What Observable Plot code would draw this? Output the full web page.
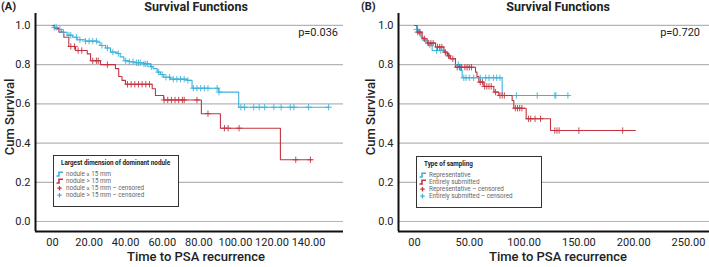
<!DOCTYPE html>
<html>
<head>
<meta charset="utf-8">
<script src="https://cdn.jsdelivr.net/npm/d3@7"></script>
<script src="https://cdn.jsdelivr.net/npm/@observablehq/plot@0.6"></script>
<style>
  html, body { margin: 0; padding: 0; background: #fff; }
  #root { position: relative; width: 709px; height: 267px; overflow: hidden; font-family: Roboto, "Open Sans", sans-serif; color: #222; }
  .abs { position: absolute; white-space: nowrap; }
  .ptitle { font-weight: 700; font-size: 12.5px; transform: translateX(-50%); }
  .panel { font-weight: 700; font-size: 11px; }
  .xlab { font-weight: 500; font-size: 13px; transform: translateX(-50%); }
  .ylab { font-weight: 500; font-size: 13px; transform: translate(-50%, -50%) rotate(-90deg); }
  .pval { font-size: 11px; transform: translateX(-100%); }
  .legend { position: absolute; background: #fff; border: 1.8px solid #333; box-sizing: border-box; }
  .legend .lt { position: absolute; font-weight: 700; font-size: 6.3px; color: #222; }
  .legend .row { position: absolute; font-size: 6.3px; color: #666; display: flex; align-items: center; height: 7px; }
  .legend svg { margin-right: 3px; }
</style>
</head>
<body>
<div id="root"></div>
<script>
// ---------------- DATA ----------------
// Panel A: Largest dimension of dominant nodule (time, cumulative survival)
const nodSmallSteps = [[0,1],[1,0.99],[3,0.98],[5,0.965],[8,0.95],[11,0.94],[13.5,0.927],[18,0.92],[24.4,0.915],[26,0.898],[29,0.885],[31.7,0.864],[35.3,0.857],[37,0.84],[39,0.82],[42,0.815],[44.4,0.81],[50,0.804],[53.6,0.79],[55,0.78],[57.2,0.762],[59,0.75],[60.8,0.736],[64.5,0.726],[73.6,0.72],[76.3,0.68],[90.9,0.66],[101.8,0.583],[151,0.583]];
const nodLargeSteps = [[0,1],[1,0.985],[3.5,0.966],[6.2,0.94],[8.9,0.893],[12.6,0.872],[19,0.855],[20.8,0.82],[26.2,0.80],[34.4,0.78],[36.2,0.74],[38,0.72],[39.9,0.70],[54.5,0.677],[56.3,0.643],[60.8,0.62],[81.4,0.55],[91.8,0.476],[124.6,0.315],[141.9,0.315]];
const nodSmallCensored = [1,2,4,6,9,10,13,15,18,20,22,24,27,30,33,36,40,42,44,46,47,48,50,51,52,54,58,60,62,64,66,68,70,72,74,77,79,81,83,85,90,91,103,105,110,113,116,121,125,130,132,140,151];
const nodLargeCensored = [10,12,14,16,22,24,25,30,41,43,45,47,49,51,53,61,63,65,67,69,71,72,79,85,94,96,102,133,141];
const pValueA = "p=0.036";
const legendTitleA = "Largest dimension of dominant nodule";
const legendLabelsA = ["nodule ≤ 15 mm", "nodule > 15 mm", "nodule ≤ 15 mm – censored", "nodule > 15 mm – censored"];
const xTicksA = [0,20,40,60,80,100,120,140];

// Panel B: Type of sampling
const reprSteps = [[0,1],[2,0.98],[4,0.96],[6,0.94],[8.5,0.923],[12,0.9],[16.1,0.872],[28.3,0.855],[32,0.83],[37.4,0.80],[42,0.77],[43.5,0.733],[80,0.643],[140.8,0.643]];
const entireSteps = [[0,1],[2.4,0.966],[7,0.932],[11.5,0.91],[19.2,0.89],[26.8,0.864],[30,0.845],[32.8,0.83],[37.4,0.787],[55.7,0.762],[57,0.74],[58.7,0.711],[63.3,0.689],[72.4,0.66],[76.9,0.643],[89.1,0.617],[90.6,0.578],[101.9,0.524],[124.1,0.464],[201.6,0.464]];
const reprCensored = [2,5,10,14,20,24,40,45,47,50,54,60,65,68,72,75,78,93,112,128,129,140];
const entireCensored = [3,5,9,13,15,17,21,23,25,28,31,35,39,41,43,46,48,50,52,60,62,64,66,68,70,74,78,80,82,92,94,96,98,104,106,110,115,128,130,132,150,190];
const pValueB = "p=0.720";
const legendTitleB = "Type of sampling";
const legendLabelsB = ["Representative", "Entirely submitted", "Representative – censored", "Entirely submitted – censored"];
const xTicksB = [0,50,100,150,200,250];

const yTicks = [0,0.2,0.4,0.6,0.8,1.0];
const chartTitle = "Survival Functions";
const xTitle = "Time to PSA recurrence";
const yTitle = "Cum Survival";

// ---------------- STYLE ----------------
const BLUE = "#3db3da";
const RED = "#c43440";
const root = document.getElementById("root");

function survAt(steps, t) {
  let s = steps[0][1];
  for (const [ti, si] of steps) if (ti <= t) s = si;
  return s;
}
const fmtX = d => d === 0 ? "00" : d.toFixed(2);

function panel(cfg) {
  const yDom = [-0.051, 1.061];
  const p = Plot.plot({
    width: cfg.width, height: 267,
    marginLeft: cfg.ml, marginRight: cfg.mr, marginTop: 13, marginBottom: 36,
    style: { fontFamily: "Roboto, 'Open Sans', sans-serif", fontSize: "11px", color: "#222", background: "transparent", overflow: "visible" },
    x: { domain: cfg.xDom, ticks: cfg.xTicks, tickFormat: fmtX, tickSize: 0, tickPadding: 7, label: null },
    y: { domain: yDom, ticks: yTicks, tickFormat: d => d.toFixed(1), tickSize: 0, tickPadding: 5, label: null },
    marks: [
      Plot.ruleY(yTicks, { stroke: "#b4b4b4", strokeWidth: 1.2 }),
      Plot.line(cfg.s1, { x: d => d[0], y: d => d[1], curve: "step-after", stroke: BLUE, strokeWidth: 1.1 }),
      Plot.line(cfg.s2, { x: d => d[0], y: d => d[1], curve: "step-after", stroke: RED, strokeWidth: 1.1 }),
      Plot.dot(cfg.c1.map(t => ({ t, s: survAt(cfg.s1, t) })), { x: "t", y: "s", symbol: "plus", r: 2.2, stroke: BLUE, strokeWidth: 0.9 }),
      Plot.dot(cfg.c2.map(t => ({ t, s: survAt(cfg.s2, t) })), { x: "t", y: "s", symbol: "plus", r: 2.2, stroke: RED, strokeWidth: 0.9 }),
      Plot.ruleX([cfg.xDom[0]], { y1: yDom[0], y2: yDom[1], stroke: "#111", strokeWidth: 2 }),
      Plot.ruleY([yDom[0]], { x1: cfg.xDom[0], x2: cfg.xDom[1], stroke: "#111", strokeWidth: 2 })
    ]
  });
  p.style.position = "absolute";
  p.style.left = cfg.left + "px";
  p.style.top = "0px";
  root.appendChild(p);
}

function addText(cls, text, x, y) {
  const d = document.createElement("div");
  d.className = "abs " + cls;
  d.textContent = text;
  d.style.left = x + "px";
  d.style.top = y + "px";
  root.appendChild(d);
  return d;
}

function stepIcon(color) {
  return `<svg width="7" height="6"><path d="M0.5,5 H3 V1.2 H7" fill="none" stroke="${color}" stroke-width="1.6"/></svg>`;
}
function plusIcon(color) {
  return `<svg width="7" height="6"><path d="M3.5,1 V5.4 M1.3,3.2 H5.7" fill="none" stroke="${color}" stroke-width="1.3"/></svg>`;
}

function legend(x, y, w, h, title, labels, titleDx) {
  const box = document.createElement("div");
  box.className = "legend";
  box.style.left = x + "px"; box.style.top = y + "px";
  box.style.width = w + "px"; box.style.height = h + "px";
  const t = document.createElement("div");
  t.className = "lt"; t.textContent = title;
  t.style.left = titleDx + "px"; t.style.top = "3px";
  box.appendChild(t);
  const icons = [stepIcon(BLUE), stepIcon(RED), plusIcon(RED), plusIcon(BLUE)];
  labels.forEach((lab, i) => {
    const r = document.createElement("div");
    r.className = "row";
    r.style.left = "2px"; r.style.top = (14 + i * 7.2) + "px";
    r.innerHTML = icons[i];
    const s = document.createElement("span");
    s.textContent = lab;
    r.appendChild(s);
    box.appendChild(r);
  });
  root.appendChild(box);
}

// Panel A
panel({ left: 0, width: 355, ml: 35, mr: 12, xDom: [-9.3, 159.1], xTicks: xTicksA, s1: nodSmallSteps, s2: nodLargeSteps, c1: nodSmallCensored, c2: nodLargeCensored });
// Panel B
panel({ left: 355, width: 354, ml: 43, mr: 0, xDom: [-14.6, 269.2], xTicks: xTicksB, s1: reprSteps, s2: entireSteps, c1: reprCensored, c2: entireCensored });

addText("panel", "(A)", 1, 0);
addText("panel", "(B)", 361, 0);
addText("ptitle", chartTitle, 196, -1);
addText("ptitle", chartTitle, 558, -1);
addText("pval", pValueA, 338, 26);
addText("pval", pValueB, 700, 26);
addText("xlab", xTitle, 196, 249);
addText("xlab", xTitle, 558, 249);
addText("ylab", yTitle, 9, 117);
addText("ylab", yTitle, 370, 117);

legend(53, 155, 126, 52, legendTitleA, legendLabelsA, 7);
legend(416, 156, 126, 52, legendTitleB, legendLabelsB, 7);
</script>
</body>
</html>
